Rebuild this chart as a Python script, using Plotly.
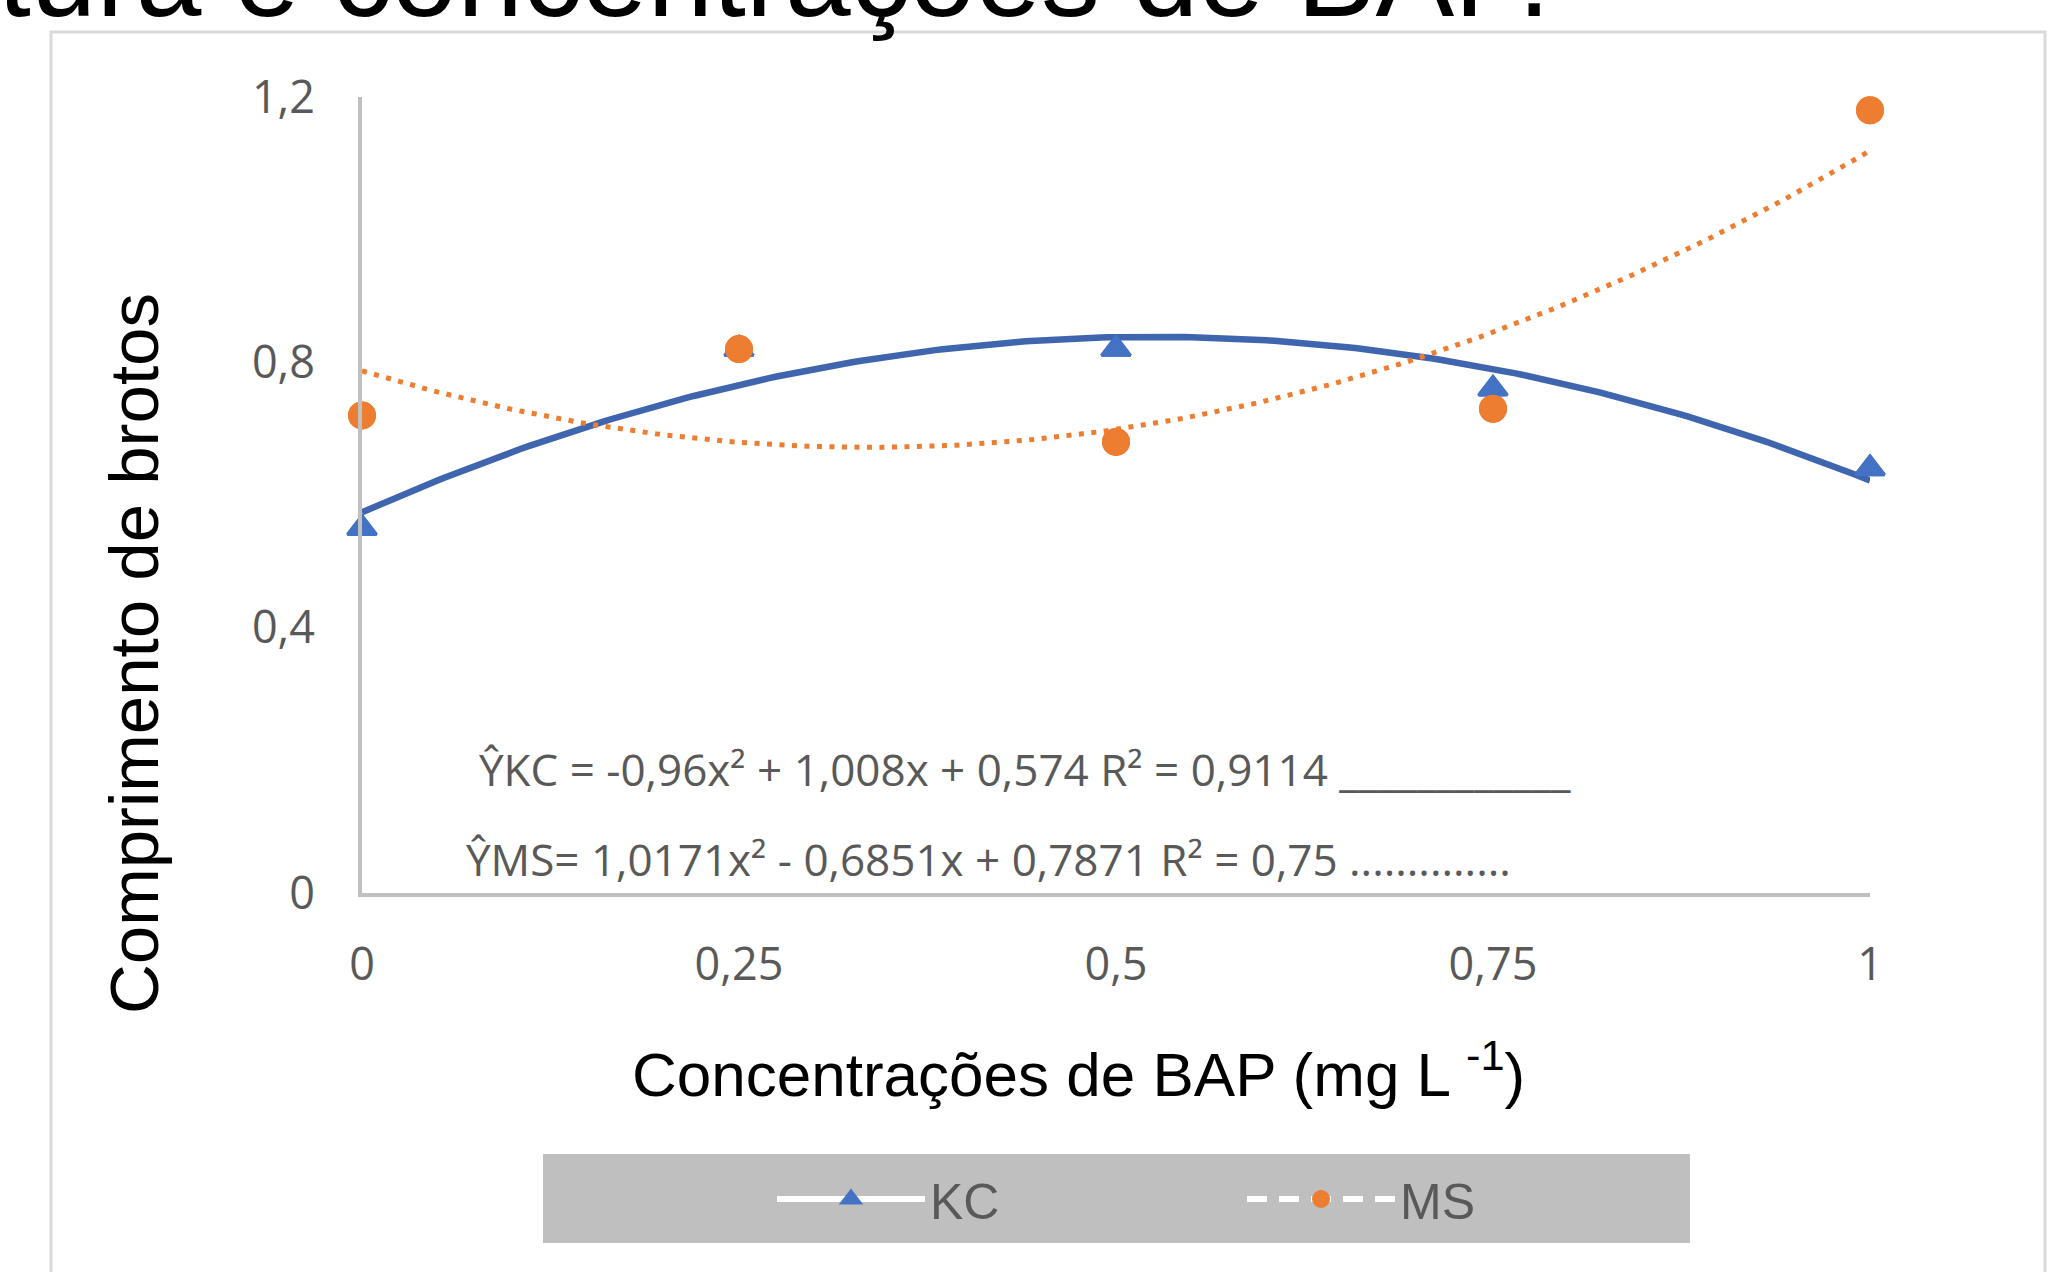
import numpy as np
import plotly.graph_objects as go

# ---------------- data ----------------
conc = [0, 0.25, 0.5, 0.75, 1]
kc_vals = [0.55, 0.82, 0.82, 0.76, 0.64]
ms_vals = [0.72, 0.82, 0.68, 0.73, 1.18]
kc_coef = [-0.96, 1.008, 0.574]      # trendline equation shown on chart
ms_coef = [1.0171, -0.6851, 0.7871]
x_ticks = [0, 0.25, 0.5, 0.75, 1]
x_ticktext = ["0", "0,25", "0,5", "0,75", "1"]
y_ticks = [0, 0.4, 0.8, 1.2]
y_ticktext = ["0", "0,4", "0,8", "1,2"]
eq_kc = "ŶKC = -0,96x² + 1,008x + 0,574 R² = 0,9114 ____________"
eq_ms = "ŶMS= 1,0171x² - 0,6851x + 0,7871 R² = 0,75 .............."
title_frag = "tura e concentrações de BAP."
y_title = "Comprimento de brotos"
x_title = "Concentrações de BAP (mg L <sup>-1</sup>)"

# ---------------- layout geometry (pixels) ----------------
FW, FH = 2051, 1272
L, R, T, B = 362, 1870, 97, 893
PW, PH = R - L, B - T


def xp(px):
    return (px - L) / PW


def yp(py):
    return (B - py) / PH


BLUE = "#4472C4"
BLUE_LINE = "#3F65AE"
ORANGE = "#ED7D31"
GREY_TXT = "#595959"
TICK_FONT = dict(family="Open Sans, Noto Sans, sans-serif", size=45, color=GREY_TXT)

xs = np.linspace(0, 1, 201)
kc_fit = np.polyval(kc_coef, xs)
ms_fit = np.polyval(ms_coef, xs)

fig = go.Figure()

# series (white connecting lines, legend entries)
fig.add_trace(go.Scatter(
    x=conc, y=kc_vals, name="KC", mode="lines+markers",
    line=dict(color="white", width=6),
    marker=dict(symbol="triangle-up", size=25, color=BLUE, line=dict(color=BLUE, width=3)),
    cliponaxis=False,
))
fig.add_trace(go.Scatter(
    x=conc, y=ms_vals, name="MS", mode="lines+markers",
    line=dict(color="white", width=6, dash="20px,12px"),
    marker=dict(symbol="circle", size=26, color=ORANGE, line=dict(color=ORANGE, width=2)),
    cliponaxis=False,
))
# trendlines
fig.add_trace(go.Scatter(
    x=xs, y=kc_fit, mode="lines", showlegend=False, hoverinfo="skip",
    line=dict(color=BLUE_LINE, width=6.5),
))
fig.add_trace(go.Scatter(
    x=xs, y=ms_fit, mode="lines", showlegend=False, hoverinfo="skip",
    line=dict(color=ORANGE, width=5, dash="5px,7.5px"),
))
# markers on top
fig.add_trace(go.Scatter(
    x=conc, y=kc_vals, mode="markers", showlegend=False,
    marker=dict(symbol="triangle-up", size=25, color=BLUE, line=dict(color=BLUE, width=3)),
    cliponaxis=False,
))
fig.add_trace(go.Scatter(
    x=conc, y=ms_vals, mode="markers", showlegend=False,
    marker=dict(symbol="circle", size=26, color=ORANGE, line=dict(color=ORANGE, width=2)),
    cliponaxis=False,
))

annotations = [
    dict(text=title_frag, x=xp(-4), y=yp(-25), xanchor="left", yanchor="middle",
         font=dict(family="Liberation Sans, Arial, sans-serif", size=118, color="black")),
    dict(text=y_title, x=xp(134), y=yp(654), textangle=-90, xanchor="center", yanchor="middle",
         font=dict(family="Liberation Sans, Arial, sans-serif", size=69, color="black")),
    dict(text=x_title, x=xp(1078), y=yp(1070), xanchor="center", yanchor="middle",
         font=dict(family="Liberation Sans, Arial, sans-serif", size=62, color="black")),
    dict(text=eq_kc, x=xp(477), y=yp(769), xanchor="left", yanchor="middle",
         font=dict(family="Open Sans, Noto Sans, sans-serif", size=44, color=GREY_TXT)),
    dict(text=eq_ms, x=xp(464), y=yp(859), xanchor="left", yanchor="middle",
         font=dict(family="Open Sans, Noto Sans, sans-serif", size=44, color=GREY_TXT)),
]
for a in annotations:
    a.update(xref="paper", yref="paper", showarrow=False)

shapes = [
    # chart-area frame
    dict(type="rect", xref="paper", yref="paper", x0=xp(51), x1=xp(2045), y0=yp(1300), y1=yp(32),
         line=dict(color="#D9D9D9", width=3), fillcolor="rgba(0,0,0,0)", layer="below"),
    # legend background
    dict(type="rect", xref="paper", yref="paper", x0=xp(543), x1=xp(1690), y0=yp(1243), y1=yp(1154),
         line=dict(width=0), fillcolor="#BFBFBF", layer="below"),
]

fig.update_layout(
    width=FW, height=FH, autosize=False,
    margin=dict(l=L, r=FW - R, t=T, b=FH - B, pad=0),
    paper_bgcolor="white", plot_bgcolor="white",
    showlegend=True,
    legend=dict(
        orientation="h", x=xp(772), y=yp(1199), xanchor="left", yanchor="middle",
        bgcolor="rgba(0,0,0,0)", borderwidth=0,
        font=dict(family="Liberation Sans, Arial, sans-serif", size=50, color=GREY_TXT),
        itemwidth=148, entrywidth=307, entrywidthmode="pixels", itemsizing="trace",
        traceorder="normal",
    ),
    annotations=annotations,
    shapes=shapes,
    xaxis=dict(
        range=[0, 1], tickvals=x_ticks, ticktext=x_ticktext, showgrid=False, zeroline=False,
        showline=True, linecolor="#C0C0C0", linewidth=4, ticks="", ticklabelstandoff=29,
        tickfont=TICK_FONT, fixedrange=True,
    ),
    yaxis=dict(
        range=[0, 1.2], tickvals=y_ticks, ticktext=y_ticktext, showgrid=False, zeroline=False,
        showline=True, linecolor="#C0C0C0", linewidth=4, ticks="", ticklabelstandoff=34,
        tickfont=TICK_FONT, fixedrange=True,
    ),
)

fig.write_html(
    "out.html",
    config={"displayModeBar": False},
    post_script="document.body.style.margin='0px';document.body.style.padding='0px';"
                "document.body.style.overflow='hidden';",
)
